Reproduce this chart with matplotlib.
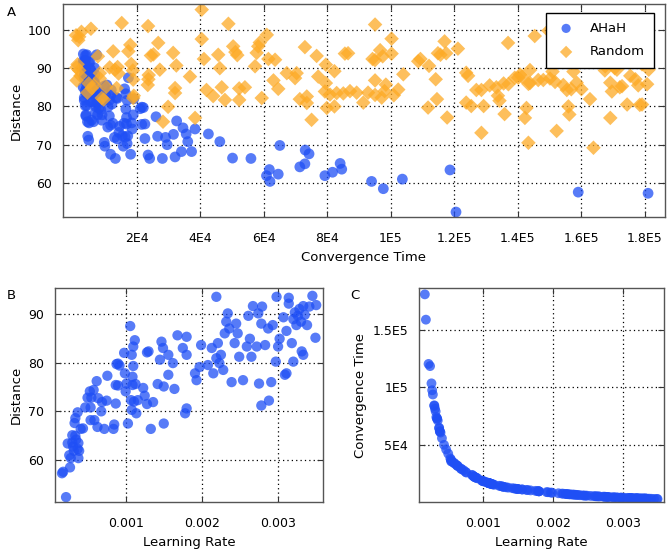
import matplotlib
matplotlib.use("Agg")
import matplotlib.pyplot as plt
from matplotlib.ticker import FixedLocator, FixedFormatter

plt.rcParams['font.family'] = ['DejaVu Sans']

# AHaH runs: learning rate, distance, convergence time (same points in A, B, C)
ahah_lr = [0.000165, 0.000180, 0.000218, 0.000240, 0.000260, 0.000270, 0.000280, 0.000300, 0.000300, 0.000310,
           0.000320, 0.000330, 0.000340, 0.000340, 0.000350, 0.000370, 0.000370, 0.000380, 0.000380, 0.000390,
           0.000410, 0.000440, 0.000470, 0.000500, 0.000530, 0.000540,
           0.00054, 0.00055, 0.00058, 0.00059, 0.00062, 0.00063, 0.00064, 0.00068, 0.00069, 0.00072,
           0.00075, 0.00076, 0.00084, 0.00085, 0.00087, 0.00087, 0.00088, 0.00090, 0.00090, 0.00092,
           0.00098, 0.00099, 0.00100, 0.00101, 0.00103, 0.00106, 0.00107, 0.00108, 0.00108, 0.00109,
           0.00109, 0.00110, 0.00110, 0.00111, 0.00112, 0.00113, 0.00114, 0.00116, 0.00123, 0.00125,
           0.00128, 0.00128, 0.00130, 0.00133, 0.00136, 0.00142, 0.00145, 0.00147, 0.00149, 0.00150,
           0.00150, 0.00156, 0.00156, 0.00162, 0.00164, 0.00168, 0.00175, 0.00178, 0.00180, 0.00180,
           0.00180,
           0.00191, 0.00193, 0.00197, 0.00199, 0.00208, 0.00213, 0.00215, 0.00219, 0.00219, 0.00221,
           0.00223, 0.00225, 0.00228, 0.00230, 0.00232, 0.00234, 0.00236, 0.00239, 0.00243, 0.00245,
           0.00247, 0.00249, 0.00254, 0.00259, 0.00261, 0.00263, 0.00265, 0.00267, 0.00272, 0.00274,
           0.00275, 0.00278, 0.00278, 0.00279, 0.00283, 0.00287, 0.00288, 0.00291, 0.00293, 0.00297,
           0.00298, 0.00300, 0.00302, 0.00307, 0.00309, 0.00311, 0.00311, 0.00314, 0.00314, 0.00318,
           0.00320, 0.00320, 0.00322, 0.00324, 0.00326, 0.00328, 0.00330, 0.00331, 0.00333, 0.00333,
           0.00335, 0.00338, 0.00341, 0.00345, 0.00349, 0.00350]
ahah_dist = [57.3, 57.6, 52.4, 63.4, 61.0, 58.5, 60.4, 63.6, 65.1, 62.8,
             61.9, 67.6, 68.6, 65.0, 64.2, 69.8, 62.3, 60.4, 63.5, 61.9,
             66.4, 66.5, 70.8, 72.8, 74.1, 68.2,
             70.8, 72.8, 74.4, 68.2, 76.2, 66.8, 72.7, 70.0, 71.9, 66.4,
             72.2, 77.3, 66.4, 67.3, 75.4, 71.6, 79.7, 75.3, 79.8, 79.4,
             82.0, 77.8, 74.1, 75.7, 67.5, 87.5, 72.3, 81.6, 70.3, 77.1,
             75.4, 83.3, 79.3, 72.0, 84.6, 75.6, 69.6, 72.3, 74.8, 73.2,
             71.5, 82.1, 82.3, 66.4, 71.9, 75.6, 80.6, 84.3, 83.0, 75.1,
             67.5, 81.6, 77.5, 79.9, 74.6, 85.6, 83.0, 69.6, 70.6, 85.3,
             81.6,
             77.8, 76.4, 79.1, 83.6, 79.5, 83.0, 77.8, 80.9, 93.5, 84.0,
             79.9, 81.6, 78.5, 86.0, 88.4, 90.1, 87.0, 76.0, 84.0, 88.0,
             86.0, 81.2, 76.4, 83.3, 89.6, 84.9, 81.2, 91.6, 83.3, 90.1,
             75.7, 88.0, 71.2, 91.5, 83.6, 87.0, 72.2, 76.0, 87.7, 80.2,
             93.5, 83.3, 84.9, 89.3, 77.5, 77.8, 86.5, 93.3, 92.1, 84.0,
             80.2, 88.9, 90.3, 87.7, 89.6, 91.0, 88.4, 82.3, 81.6, 91.6,
             89.8, 87.7, 91.5, 93.7, 85.1, 91.8]
ahah_conv = [181000, 159000, 120500, 118600, 103600, 97600, 93900, 84500, 84000, 81600,
             79200, 74200, 73000, 72900, 71300, 65000, 64500, 61900, 61700, 60800,
             55900, 50100, 46100, 42500, 38300, 37200,
             36000, 35500, 34500, 34000, 32500, 32000, 31500, 29500, 29000, 28000,
             26500, 26000, 24000, 23500, 22500, 22500, 22000, 21500, 21500, 21000,
             19000, 18800, 18500, 18300, 18000, 17300, 17100, 16900, 16900, 16700,
             16700, 16500, 16500, 16300, 16100, 15900, 15700, 15400, 14500, 14300,
             13800, 13800, 13500, 13200, 12900, 12400, 12100, 11900, 11800, 11700,
             11700, 11300, 11300, 10900, 10800, 10500, 10100, 9900, 9700, 9700,
             9700,
             9000, 8900, 8600, 8500, 8000, 7700, 7600, 7400, 7300, 7200,
             7100, 7000, 6900, 6800, 6700, 6600, 6500, 6300, 6100, 6000,
             5900, 5900, 5700, 5500, 5400, 5300, 5300, 5200, 5000, 5000,
             4900, 4800, 4800, 4800, 4600, 4500, 4500, 4400, 4300, 4200,
             4200, 4100, 4100, 4000, 3900, 3900, 3900, 3800, 3800, 3700,
             3700, 3700, 3600, 3600, 3500, 3500, 3500, 3400, 3400, 3400,
             3300, 3300, 3200, 3100, 3000, 3000]

# Random runs: convergence time, distance
rand_conv = [800, 1500, 2500, 5500, 1800, 900, 1800, 1300, 1000, 2200,
             4800, 5800, 4400, 7700, 8300, 8300, 8900, 9500, 10300, 12500,
             11400, 13100, 13900, 13600, 15200, 17300, 17900, 18200, 18700, 18800,
             18800, 19000, 23500, 23600, 23700, 23400, 24400, 25200, 26700, 27200,
             29800, 28200, 31400, 32400, 32000, 32000, 36700, 38300, 6400, 14200,
             40400, 40400, 41100, 41900, 44000, 45600, 46100, 46700, 47700, 48800,
             50300, 51000, 51600, 52200, 52200, 54000, 57200, 57700, 58200, 58700,
             59300, 60900, 61400, 63500, 63000, 64500, 67200, 69800, 70300, 71300,
             72900, 73500, 73500, 75000, 76600, 77100, 79500, 79500, 79200, 79800,
             82200, 82200, 82900, 85500, 86500, 85000, 80800,
             87100, 89200, 91300, 92800, 95000, 97100, 98000, 95000, 100200, 100200,
             96600, 95000, 94200, 97400, 103900, 95000, 98400, 102300, 100900, 108600,
             109300, 112000, 114100, 111700, 114500, 117700, 114800, 116900, 115600, 117400,
             121100, 123700, 124300, 123700, 125300, 129200, 128500, 126900, 128500, 131100,
             133200, 133700, 134200, 135800, 136900, 135500,
             140700, 141300, 143800, 142700, 142200, 143300, 143800, 145300, 146400, 148000,
             149600, 150100, 150900, 151700, 152200, 154300, 154800, 155400, 155900, 156200,
             157500, 158500, 156800, 162700, 163800, 167500, 169100, 169600, 169100, 171200,
             172800, 174400, 175400, 177000, 179100, 179100, 180700, 181200, 151700, 154800,
             167400, 170500, 143300, 139000, 160000, 137000, 140100, 178400, 177900, 172100]
rand_dist = [98.6, 97.3, 99.5, 100.3, 98.2, 90.2, 89.4, 91.0, 86.8, 88.0,
             86.0, 84.8, 83.6, 93.1, 88.7, 87.3, 82.2, 81.8, 85.1, 94.4,
             90.2, 89.6, 90.3, 84.8, 101.8, 94.4, 96.1, 91.1, 89.4, 87.0,
             82.2, 82.8, 101.0, 87.1, 88.2, 85.6, 93.3, 93.6, 96.6, 89.6,
             79.9, 76.0, 94.0, 90.7, 84.8, 83.5, 87.8, 77.0, 85.5, 88.6,
             105.3, 97.6, 92.4, 84.3, 82.7, 93.5, 90.0, 85.0, 81.7, 101.6,
             95.7, 94.2, 93.4, 84.7, 81.7, 85.0, 90.5, 94.0, 95.7, 96.7,
             82.2, 98.7, 92.4, 92.2, 86.8, 84.6, 88.7, 87.4, 88.7, 81.9,
             95.5, 82.6, 80.9, 76.5, 93.2, 87.8, 90.9, 86.1, 83.9, 79.6,
             89.2, 80.0, 83.5, 93.8, 93.9, 83.4, 83.1,
             84.0, 83.6, 81.0, 83.6, 83.0, 82.3, 84.0, 101.4, 97.7, 93.8,
             94.7, 92.1, 92.4, 93.1, 88.4, 86.8, 85.7, 84.4, 82.9, 91.8,
             92.4, 90.6, 87.1, 79.7, 81.9, 77.1, 93.9, 97.0, 93.5, 93.9,
             95.1, 88.8, 88.0, 81.0, 80.1, 80.1, 73.1, 84.3, 84.3, 85.5,
             85.0, 82.8, 81.5, 78.0, 96.6, 86.0,
             88.3, 87.8, 86.1, 79.6, 77.0, 70.5, 89.5, 98.4, 86.9, 86.9,
             99.8, 87.3, 89.1, 86.4, 73.6, 85.6, 93.9, 84.3, 80.0, 77.9,
             89.1, 86.2, 84.5, 81.9, 69.2, 90.5, 86.2, 83.9, 77.0, 89.6,
             85.3, 80.5, 88.0, 87.1, 80.5, 91.0, 85.8, 89.6, 91.6, 91.6,
             89.4, 90.0, 85.9, 87.5, 84.5, 85.8, 87.5, 80.4, 85.5, 85.0]

conv_ticks = [2e4, 4e4, 6e4, 8e4, 1e5, 1.2e5, 1.4e5, 1.6e5, 1.8e5]
conv_labels = ["2E4", "4E4", "6E4", "8E4", "1E5", "1.2E5", "1.4E5", "1.6E5", "1.8E5"]
lr_ticks = [0.001, 0.002, 0.003]
lr_labels = ["0.001", "0.002", "0.003"]
c_ticks = [5e4, 1e5, 1.5e5]
c_labels = ["5E4", "1E5", "1.5E5"]

blue = "#1f4ff5"
orange = "#fdaa25"


def style(ax):
    for s in ax.spines.values():
        s.set_color("#555555")
        s.set_linewidth(1.0)
    ax.tick_params(direction="in", top=True, right=True, length=4,
                   color="#333333", labelsize=9)
    ax.tick_params(axis="x", pad=11)
    ax.tick_params(axis="y", pad=8)
    ax.grid(True, color="black", linestyle=(0, (1, 2.5)), linewidth=0.9)
    ax.set_axisbelow(True)


fig = plt.figure(figsize=(6.71, 5.55), dpi=100)

# panel A
axA = fig.add_axes([0.0939, 0.609, 0.897, 0.384])
axA.scatter(ahah_conv, ahah_dist, s=60, color=blue, alpha=0.75,
            edgecolors="none", label="AHaH")
axA.scatter(rand_conv, rand_dist, s=55, marker="D", color=orange, alpha=0.75,
            edgecolors="none", label="Random")
axA.set_xlim(-3300, 186300)
axA.set_ylim(51.1, 106.8)
axA.xaxis.set_major_locator(FixedLocator(conv_ticks))
axA.xaxis.set_major_formatter(FixedFormatter(conv_labels))
axA.set_yticks([60, 70, 80, 90, 100])
axA.set_xlabel("Convergence Time", fontsize=9.5)
axA.set_ylabel("Distance", fontsize=9.5)
style(axA)
leg = axA.legend(loc="upper right", fontsize=9.5, frameon=True, fancybox=False,
                 borderpad=0.7, labelspacing=0.8, handletextpad=1.0,
                 handlelength=1.6, markerscale=0.85, framealpha=1.0,
                 bbox_to_anchor=(0.993, 0.99))
leg.get_frame().set_edgecolor("black")
leg.get_frame().set_linewidth(1.0)

# panel B
axB = fig.add_axes([0.082, 0.0955, 0.399, 0.3855])
axB.scatter(ahah_lr, ahah_dist, s=55, color=blue, alpha=0.75, edgecolors="none")
axB.set_xlim(0.0000734, 0.003586)
axB.set_ylim(51.4, 95.3)
axB.xaxis.set_major_locator(FixedLocator(lr_ticks))
axB.xaxis.set_major_formatter(FixedFormatter(lr_labels))
axB.set_yticks([60, 70, 80, 90])
axB.set_xlabel("Learning Rate", fontsize=9.5)
axB.set_ylabel("Distance", fontsize=9.5)
style(axB)

# panel C
axC = fig.add_axes([0.6245, 0.0955, 0.365, 0.3855])
axC.scatter(ahah_lr, ahah_conv, s=50, color=blue, alpha=0.75, edgecolors="none")
axC.set_xlim(0.0000818, 0.003592)
axC.set_ylim(400, 186500)
axC.xaxis.set_major_locator(FixedLocator(lr_ticks))
axC.xaxis.set_major_formatter(FixedFormatter(lr_labels))
axC.yaxis.set_major_locator(FixedLocator(c_ticks))
axC.yaxis.set_major_formatter(FixedFormatter(c_labels))
axC.set_xlabel("Learning Rate", fontsize=9.5)
axC.set_ylabel("Convergence Time", fontsize=9.5)
style(axC)

fig.text(0.017, 0.978, "A", fontsize=9.5, ha="center", va="center")
fig.text(0.017, 0.468, "B", fontsize=9.5, ha="center", va="center")
fig.text(0.529, 0.468, "C", fontsize=9.5, ha="center", va="center")

fig.savefig("out.png", dpi=100)
